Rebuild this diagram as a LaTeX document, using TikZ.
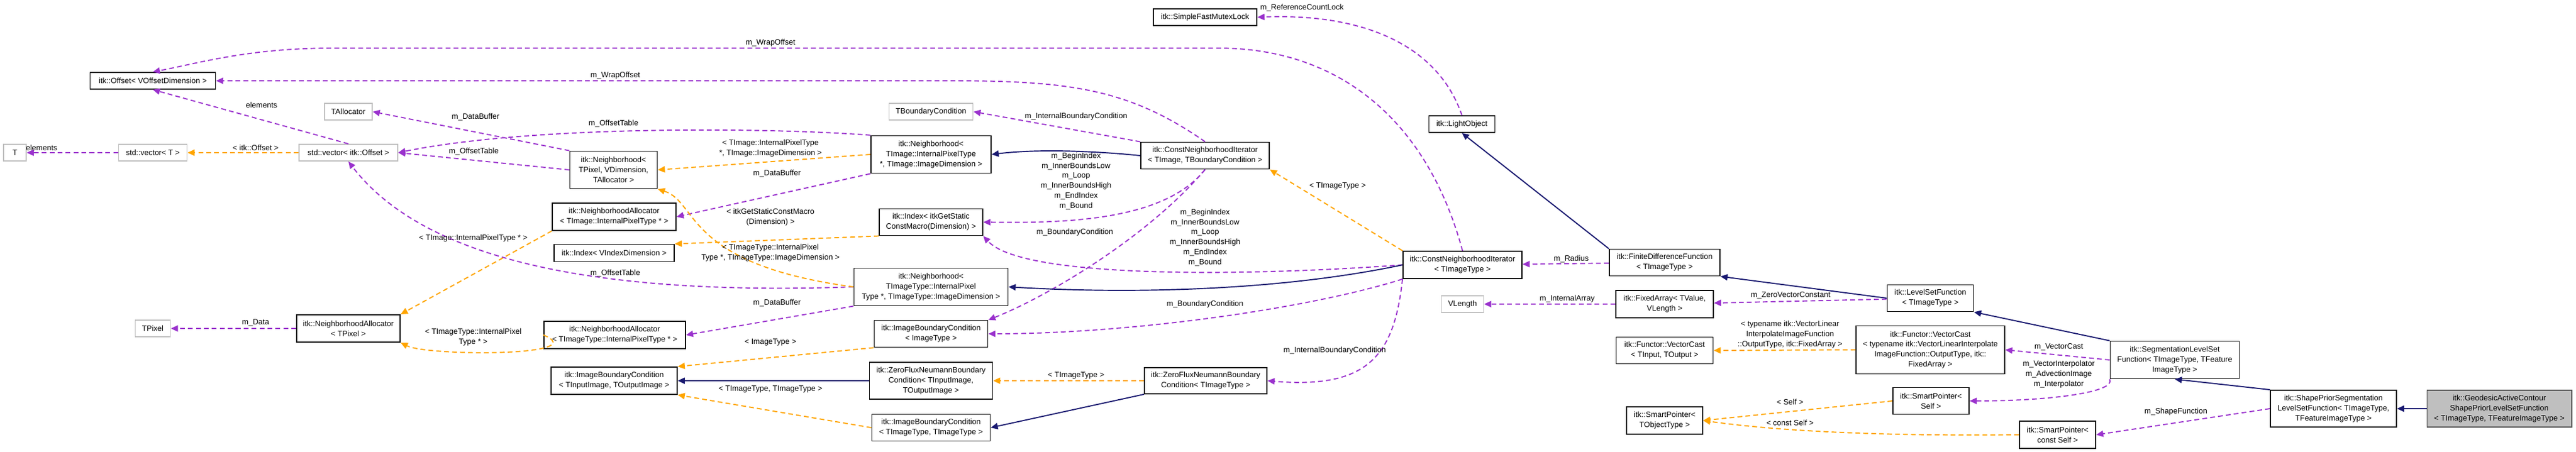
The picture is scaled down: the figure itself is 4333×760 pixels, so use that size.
\documentclass[tikz,border=0pt]{standalone}
\usepackage{fontspec}
\setmainfont{Liberation Sans}
\usetikzlibrary{arrows.meta}

\definecolor{memcol}{RGB}{154,50,205}
\definecolor{tplcol}{RGB}{255,165,0}
\definecolor{inhcol}{RGB}{25,25,112}
\newcommand{\tlt}{\textless}
\newcommand{\tgt}{\textgreater}

\begin{document}
\begin{tikzpicture} [x=0.01cm, y=-0.01cm,
				cls/.style={
				% The shape:
				rectangle,
				% The border:
				draw=black, line width=0.5pt,
				% The filling:
				fill=white,
				inner sep=0pt, align=center,
				font=\fontsize{3.7}{4.8}\selectfont
				},
				ext/.style={
				cls, draw=black!25
				},
				main/.style={
				cls, draw=black!70, fill=black!25
				},
				mem/.style={
				draw=memcol, line width=0.55pt, dash pattern=on 2.3pt off 1.5pt,
				-{Triangle[length=3.4pt,width=3pt]}
				},
				tpl/.style={
				mem, draw=tplcol
				},
				inh/.style={
				draw=inhcol, line width=0.55pt,
				-{Triangle[length=3.4pt,width=3pt]}
				},
				lbl/.style={
				align=center, inner sep=0pt,
				font=\fontsize{3.7}{4.8}\selectfont
				},
				]
    \useasboundingbox (0,0) rectangle (4333,760);
    % classes, left part
    \node [cls, minimum width=2.11cm, minimum height=0.28cm] (off) at (257,136) {itk::Offset\tlt{} VOffsetDimension \tgt};
    \node [ext, minimum width=0.80cm, minimum height=0.28cm] (tall) at (586,188) {TAllocator};
    \node [ext, minimum width=0.38cm, minimum height=0.28cm] (T) at (25,257) {T};
    \node [ext, minimum width=1.15cm, minimum height=0.28cm] (vt) at (257,257) {std::vector\tlt{} T \tgt};
    \node [ext, minimum width=1.66cm, minimum height=0.28cm] (vo) at (586,257) {std::vector\tlt{} itk::Offset \tgt};
    \node [ext, minimum width=0.59cm, minimum height=0.28cm] (tpix) at (257,553) {TPixel};
    \node [cls, minimum width=1.74cm, minimum height=0.46cm] (naP) at (586,553) {itk::NeighborhoodAllocator\\\tlt{} TPixel \tgt};
    \node [cls, minimum width=1.47cm, minimum height=0.63cm] (nbhP) at (1032,286) {itk::Neighborhood\tlt\\TPixel, VDimension,\\TAllocator \tgt};
    \node [cls, minimum width=2.08cm, minimum height=0.46cm] (naI) at (1033,365) {itk::NeighborhoodAllocator\\\tlt{} TImage::InternalPixelType * \tgt};
    \node [cls, minimum width=2.02cm, minimum height=0.29cm] (idxV) at (1033,426) {itk::Index\tlt{} VIndexDimension \tgt};
    \node [cls, minimum width=2.38cm, minimum height=0.46cm] (naT) at (1034,564) {itk::NeighborhoodAllocator\\\tlt{} TImageType::InternalPixelType * \tgt};
    \node [cls, minimum width=2.12cm, minimum height=0.46cm] (ibcT) at (1033,641) {itk::ImageBoundaryCondition\\\tlt{} TInputImage, TOutputImage \tgt};
    % classes, middle part
    \node [cls, minimum width=1.74cm, minimum height=0.28cm] (mutex) at (2027,29) {itk::SimpleFastMutexLock};
    \node [ext, minimum width=1.41cm, minimum height=0.28cm] (tbc) at (1566,188) {TBoundaryCondition};
    \node [cls, minimum width=2.02cm, minimum height=0.63cm] (nbhI) at (1566,260) {itk::Neighborhood\tlt\\TImage::InternalPixelType\\*, TImage::ImageDimension \tgt};
    \node [cls, minimum width=2.16cm, minimum height=0.45cm] (cni1) at (2027,262) {itk::ConstNeighborhoodIterator\\\tlt{} TImage, TBoundaryCondition \tgt};
    \node [cls, minimum width=1.74cm, minimum height=0.45cm] (idxS) at (1566,374) {itk::Index\tlt{} itkGetStatic\\ConstMacro(Dimension) \tgt};
    \node [cls, minimum width=2.59cm, minimum height=0.63cm] (nbhT) at (1566,483) {itk::Neighborhood\tlt\\TImageType::InternalPixel\\Type *, TImageType::ImageDimension \tgt};
    \node [cls, minimum width=1.91cm, minimum height=0.45cm] (ibcI) at (1566,562) {itk::ImageBoundaryCondition\\\tlt{} ImageType \tgt};
    \node [cls, minimum width=2.07cm, minimum height=0.62cm] (zfT) at (1566,641) {itk::ZeroFluxNeumannBoundary\\Condition\tlt{} TInputImage,\\TOutputImage \tgt};
    \node [cls, minimum width=1.99cm, minimum height=0.45cm] (ibcTT) at (1566,720) {itk::ImageBoundaryCondition\\\tlt{} TImageType, TImageType \tgt};
    \node [cls, minimum width=2.06cm, minimum height=0.44cm] (zfI) at (2028,641) {itk::ZeroFluxNeumannBoundary\\Condition\tlt{} TImageType \tgt};
    % classes, right part
    \node [cls, minimum width=1.11cm, minimum height=0.28cm] (light) at (2459,209) {itk::LightObject};
    \node [cls, minimum width=2.00cm, minimum height=0.46cm] (cni2) at (2460,446) {itk::ConstNeighborhoodIterator\\\tlt{} TImageType \tgt};
    \node [cls, minimum width=1.86cm, minimum height=0.45cm] (fdf) at (2800,442) {itk::FiniteDifferenceFunction\\\tlt{} TImageType \tgt};
    \node [ext, minimum width=0.71cm, minimum height=0.28cm] (vl) at (2460,512) {VLength};
    \node [cls, minimum width=1.64cm, minimum height=0.46cm] (fa) at (2800,512) {itk::FixedArray\tlt{} TValue,\\VLength \tgt};
    \node [cls, minimum width=1.63cm, minimum height=0.45cm] (vc) at (2800,590) {itk::Functor::VectorCast\\\tlt{} TInput, TOutput \tgt};
    \node [cls, minimum width=1.28cm, minimum height=0.46cm] (spO) at (2800,708) {itk::SmartPointer\tlt\\TObjectType \tgt};
    \node [cls, minimum width=1.45cm, minimum height=0.45cm] (lsf) at (3247,502) {itk::LevelSetFunction\\\tlt{} TImageType \tgt};
    \node [cls, minimum width=2.50cm, minimum height=0.81cm] (vcT) at (3247,589) {itk::Functor::VectorCast\\\tlt{} typename itk::VectorLinearInterpolate\\ImageFunction::OutputType, itk::\\FixedArray \tgt};
    \node [cls, minimum width=1.28cm, minimum height=0.45cm] (spS) at (3248,675) {itk::SmartPointer\tlt\\Self \tgt};
    \node [cls, minimum width=2.17cm, minimum height=0.63cm] (seg) at (3658,606) {itk::SegmentationLevelSet\\Function\tlt{} TImageType, TFeature\\ImageType \tgt};
    \node [cls, minimum width=1.28cm, minimum height=0.46cm] (spC) at (3461,732) {itk::SmartPointer\tlt\\const Self \tgt};
    \node [cls, minimum width=2.12cm, minimum height=0.62cm] (shape) at (3925,688) {itk::ShapePriorSegmentation\\LevelSetFunction\tlt{} TImageType,\\TFeatureImageType \tgt};
    \node [main, minimum width=2.43cm, minimum height=0.62cm] (geo) at (4204,688) {itk::GeodesicActiveContour\\ShapePriorLevelSetFunction\\\tlt{} TImageType, TFeatureImageType \tgt};

    % members
    \draw [mem] (vt) -- (T) node [lbl, at={(70,249)}] {elements};
    \draw [mem] (vo.north) -- (off.south) node [lbl, at={(440,177)}] {elements};
    \draw [mem] (nbhP.north west) -- (tall.east) node [lbl, at={(800,197)}] {m\_DataBuffer};
    \draw [mem] (nbhP.west) -- (vo.east) node [lbl, at={(797,255)}] {m\_OffsetTable};
    \draw [mem] (nbhI.north west) .. controls (1300,215) and (900,210) .. (vo.east) node [lbl, at={(1032,208)}] {m\_OffsetTable};
    \draw [mem] (nbhT.west) .. controls (950,500) and (700,420) .. (vo.south) node [lbl, at={(1035,460)}] {m\_OffsetTable};
    \draw [mem] (nbhI.south west) -- (naI.east) node [lbl, at={(1307,292)}] {m\_DataBuffer};
    \draw [mem] (nbhT.south west) -- (naT.east) node [lbl, at={(1307,510)}] {m\_DataBuffer};
    \draw [mem] (naP) -- (tpix) node [lbl, at={(430,543)}] {m\_Data};
    \draw [mem] (cni1.north) .. controls (1900,150) and (1800,136) .. (1600,136) -- (off.east) node [lbl, at={(1035,127)}] {m\_WrapOffset};
    \draw [mem] (cni2.north) .. controls (2400,200) and (2250,81) .. (2050,81) -- (560,81) .. controls (420,81) and (340,105) .. (off.north) node [lbl, at={(1296,72)}] {m\_WrapOffset};
    \draw [mem] (cni1.north west) -- (tbc.east) node [lbl, at={(1810,196)}] {m\_InternalBoundaryCondition};
    \draw [mem] (cni1.south) .. controls (1960,370) and (1800,376) .. (idxS.east) node [lbl, at={(1810,305)}] {m\_BeginIndex\\m\_InnerBoundsLow\\m\_Loop\\m\_InnerBoundsHigh\\m\_EndIndex\\m\_Bound};
    \draw [mem] (cni1.south) .. controls (1930,400) and (1760,500) .. (ibcI.north east) node [lbl, at={(1808,391)}] {m\_BoundaryCondition};
    \draw [mem] (cni2.west) .. controls (2100,465) and (1720,470) .. (idxS.south east) node [lbl, at={(2027,400)}] {m\_BeginIndex\\m\_InnerBoundsLow\\m\_Loop\\m\_InnerBoundsHigh\\m\_EndIndex\\m\_Bound};
    \draw [mem] (cni2.south west) .. controls (2200,520) and (1900,562) .. (ibcI.east) node [lbl, at={(2027,512)}] {m\_BoundaryCondition};
    \draw [mem] (cni2.south west) .. controls (2345,600) and (2300,655) .. (zfI.east) node [lbl, at={(2245,590)}] {m\_InternalBoundaryCondition};
    \draw [mem] (fdf) -- (cni2) node [lbl, at={(2643,436)}] {m\_Radius};
    \draw [mem] (lsf) -- (fa) node [lbl, at={(3012,497)}] {m\_ZeroVectorConstant};
    \draw [mem] (fa) -- (vl) node [lbl, at={(2636,503)}] {m\_InternalArray};
    \draw [mem] (light.north) .. controls (2420,80) and (2300,22) .. (mutex.east) node [lbl, at={(2190,13)}] {m\_ReferenceCountLock};
    \draw [mem] (seg.west) -- (vcT.east) node [lbl, at={(3463,584)}] {m\_VectorCast};
    \draw [mem] (seg.south west) .. controls (3560,660) and (3450,675) .. (spS.east) node [lbl, at={(3463,630)}] {m\_VectorInterpolator\\m\_AdvectionImage\\m\_Interpolator};
    \draw [mem] (shape.west) -- (spC.east) node [lbl, at={(3660,693)}] {m\_ShapeFunction};

    % template instances
    \draw [tpl] (vo) -- (vt) node [lbl, at={(430,249)}] {\tlt{} itk::Offset \tgt};
    \draw [tpl] (naI.south west) -- (naP.north east) node [lbl, at={(796,401)}] {\tlt{} TImage::InternalPixelType * \tgt};
    \draw [tpl] (naT.west) .. controls (1000,600) and (720,600) .. (naP.south east) node [lbl, at={(796,568)}] {\tlt{} TImageType::InternalPixel\\Type * \tgt};
    \draw [tpl] (nbhI.west) -- (nbhP.east) node [lbl, at={(1296,250)}] {\tlt{} TImage::InternalPixelType\\*, TImage::ImageDimension \tgt};
    \draw [tpl] (nbhT.west) .. controls (1150,445) and (1175,340) .. (nbhP.south east) node [lbl, at={(1296,426)}] {\tlt{} TImageType::InternalPixel\\Type *, TImageType::ImageDimension \tgt};
    \draw [tpl] (idxS.south west) -- (idxV.north east) node [lbl, at={(1296,366)}] {\tlt{} itkGetStaticConstMacro\\(Dimension) \tgt};
    \draw [tpl] (ibcI.south west) -- (ibcT.north east) node [lbl, at={(1296,576)}] {\tlt{} ImageType \tgt};
    \draw [tpl] (ibcTT.west) -- (ibcT.south east) node [lbl, at={(1296,655)}] {\tlt{} TImageType, TImageType \tgt};
    \draw [tpl] (zfI) -- (zfT) node [lbl, at={(1810,632)}] {\tlt{} TImageType \tgt};
    \draw [tpl] (cni2.north west) -- (cni1.south east) node [lbl, at={(2250,313)}] {\tlt{} TImageType \tgt};
    \draw [tpl] (vcT.west) -- (vc.east) node [lbl, at={(3011,563)}] {\tlt{} typename itk::VectorLinear\\InterpolateImageFunction\\::OutputType, itk::FixedArray \tgt};
    \draw [tpl] (spS.west) -- (spO.east) node [lbl, at={(3011,677)}] {\tlt{} Self \tgt};
    \draw [tpl] (spC.west) .. controls (3100,735) and (2950,720) .. (spO.east) node [lbl, at={(3011,712)}] {\tlt{} const Self \tgt};

    % inheritance
    \draw [inh] (cni1.west) .. controls (1850,255) and (1750,250) .. (nbhI.east);
    \draw [inh] (cni2.west) .. controls (2150,490) and (1900,495) .. (nbhT.east);
    \draw [inh] (zfI.south west) -- (ibcTT.east);
    \draw [inh] (zfT) -- (ibcT);
    \draw [inh] (fdf.north west) -- (light.south);
    \draw [inh] (lsf.west) -- (fdf.south east);
    \draw [inh] (seg.north west) -- (lsf.south east);
    \draw [inh] (shape.north west) -- (seg.south);
    \draw [inh] (geo) -- (shape);
\end{tikzpicture}
\end{document}
